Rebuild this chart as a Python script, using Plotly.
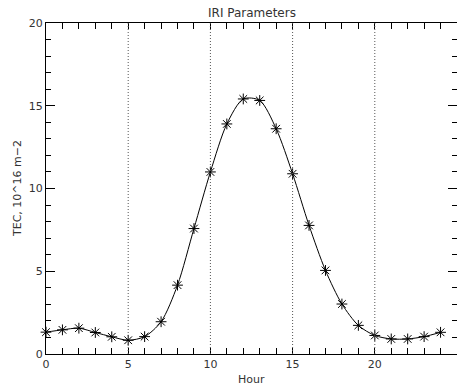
import plotly.graph_objects as go

hours = list(range(25))
tec = [1.32, 1.46, 1.56, 1.30, 1.04, 0.83, 1.05, 1.95, 4.16, 7.58, 11.0, 13.9,
       15.41, 15.32, 13.61, 10.89, 7.77, 5.05, 3.02, 1.73, 1.12, 0.91, 0.91, 1.05, 1.31]
vlines = [5, 10, 15, 20]
x_ticks = [0, 5, 10, 15, 20, 25]
y_ticks = [0, 5, 10, 15, 20]

FONT = "DejaVu Sans"
fig = go.Figure()

for v in vlines:
    fig.add_shape(type="line", x0=v, x1=v, y0=0, y1=20, xref="x", yref="y",
                  line=dict(color="#555", width=1, dash="1px,2px"))

fig.add_trace(go.Scatter(
    x=hours, y=tec, mode="lines+markers",
    line=dict(color="black", width=1, shape="spline", smoothing=0.8),
    marker=dict(symbol="asterisk-open", size=9, color="black",
                line=dict(color="black", width=1)),
    showlegend=False, cliponaxis=False))

axis_common = dict(showgrid=False, zeroline=False, showline=True, linecolor="black",
                   linewidth=1, mirror="ticks", ticks="inside", tickcolor="black",
                   tickfont=dict(family=FONT, size=11, color="#333"))

fig.update_xaxes(range=[0, 25], tickvals=x_ticks, ticklen=6,
                 minor=dict(dtick=1, ticks="inside", ticklen=6, tickcolor="black"),
                 automargin=False, **axis_common)
fig.update_yaxes(range=[0, 20], tickvals=y_ticks, ticklen=9,
                 minor=dict(dtick=1, ticks="inside", ticklen=5, tickcolor="black"),
                 automargin=False, **axis_common)

fig.update_layout(
    width=457, height=385,
    margin=dict(l=46, r=0, t=23, b=31),
    plot_bgcolor="white", paper_bgcolor="white",
    annotations=[
        dict(text="IRI Parameters", x=0.5, y=1, xref="paper", yref="paper",
             xanchor="center", yanchor="bottom", yshift=1, showarrow=False,
             font=dict(family=FONT, size=12, color="#333")),
        dict(text="Hour", x=0.5, y=0, xref="paper", yref="paper",
             xanchor="center", yanchor="top", yshift=-17, showarrow=False,
             font=dict(family=FONT, size=11, color="#333")),
        dict(text="TEC, 10^16 m\u22122", x=0, y=0.5, xref="paper", yref="paper",
             xanchor="right", yanchor="middle", xshift=-20, textangle=-90,
             showarrow=False, font=dict(family=FONT, size=11, color="#333")),
    ],
)

fig.write_html("out.html", config={"displayModeBar": False},
               post_script="document.body.style.margin='0';document.body.style.overflow='hidden';")
